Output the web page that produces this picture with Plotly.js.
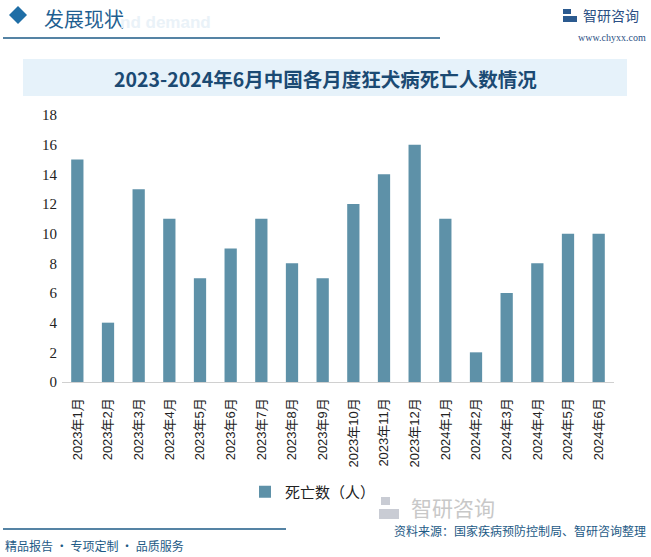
<!DOCTYPE html>
<html><head><meta charset="utf-8">
<script src="https://cdn.plot.ly/plotly-3.0.1.min.js"></script>
<style>body{margin:0;padding:0;background:#fff}#chart{width:651px;height:557px}</style>
</head><body><div id="chart"></div>
<script>
const categories = ["2023年1月","2023年2月","2023年3月","2023年4月","2023年5月","2023年6月","2023年7月","2023年8月","2023年9月","2023年10月","2023年11月","2023年12月","2024年1月","2024年2月","2024年3月","2024年4月","2024年5月","2024年6月"];
const deaths = [15,4,13,11,7,9,11,8,7,12,14,16,11,2,6,8,10,10];
const seriesName = "死亡数（人）";
const yTicks = [0,2,4,6,8,10,12,14,16,18];

const W = 651, H = 557;
const ml = 62, mr = 37, mt = 115, mb = 175;
const ph = H - mt - mb;
function py(pix){ return (H - mb - pix) / ph; }
function px(pix){ return (pix - ml) / (W - ml - mr); }

const data = [{
  type: 'bar', x: categories, y: deaths, name: seriesName,
  marker: {color: '#5e91a8'}, showlegend: true
}];

const layout = {
  width: W, height: H,
  margin: {l: ml, r: mr, t: mt, b: mb},
  paper_bgcolor: '#ffffff', plot_bgcolor: 'rgba(0,0,0,0)',
  bargap: 0.6,
  font: {family: 'Liberation Sans, Noto Sans CJK SC, sans-serif', color: '#222'},
  xaxis: {
    type: 'category', tickangle: -90, showgrid: false, zeroline: false,
    showline: true, linecolor: '#d0d0d0', linewidth: 1, ticks: '', ticklabelstandoff: 10,
    tickfont: {size: 13, family: 'Liberation Sans, Noto Sans CJK SC, sans-serif', color: '#222'}
  },
  yaxis: {
    range: [0, 18], tickvals: yTicks, ticktext: yTicks.map(String),
    showgrid: false, zeroline: false, showline: false, ticks: '', ticklabelstandoff: 4,
    tickfont: {size: 15, family: 'Liberation Serif, serif', color: '#222'}
  },
  showlegend: true,
  legend: {orientation: 'h', x: px(313), xanchor: 'center', y: py(492), yanchor: 'middle',
    font: {size: 15, family: 'Noto Sans CJK SC, sans-serif', color: '#222'}, itemwidth: 30},
  shapes: [
    {type: 'rect', xref: 'paper', yref: 'paper', x0: px(23), x1: px(627), y0: py(59), y1: py(96),
      fillcolor: '#e6f2fa', line: {width: 0}, layer: 'below'},
    {type: 'path', xref: 'paper', yref: 'paper',
      path: 'M ' + px(9) + ' ' + py(15) + ' L ' + px(18) + ' ' + py(6) + ' L ' + px(27) + ' ' + py(15) + ' L ' + px(18) + ' ' + py(24) + ' Z',
      fillcolor: '#1f6ea6', line: {width: 0}},
    {type: 'line', xref: 'paper', yref: 'paper', x0: px(3), x1: px(440), y0: py(38), y1: py(38),
      line: {color: '#1d5a86', width: 1.5}},
    {type: 'line', xref: 'paper', yref: 'paper', x0: px(3), x1: px(286), y0: py(529), y1: py(529),
      line: {color: '#1d5a86', width: 1.5}},
    {type: 'rect', xref: 'paper', yref: 'paper', x0: px(563), x1: px(571), y0: py(9), y1: py(14),
      fillcolor: '#2b5a8f', line: {width: 0}},
    {type: 'rect', xref: 'paper', yref: 'paper', x0: px(563), x1: px(577), y0: py(16), y1: py(22),
      fillcolor: '#2b5a8f', line: {width: 0}},
    {type: 'rect', xref: 'paper', yref: 'paper', x0: px(379), x1: px(390), y0: py(497), y1: py(505),
      fillcolor: '#c9ccd4', line: {width: 0}},
    {type: 'rect', xref: 'paper', yref: 'paper', x0: px(379), x1: px(399), y0: py(509), y1: py(519),
      fillcolor: '#c9ccd4', line: {width: 0}}
  ],
  annotations: [
    {xref: 'paper', yref: 'paper', x: px(42), y: py(18), xanchor: 'left', yanchor: 'middle', showarrow: false,
      text: '发展现状', font: {size: 20, family: 'Noto Sans CJK SC, sans-serif', color: '#1f5f91'}},
    {xref: 'paper', yref: 'paper', x: px(118), y: py(22), xanchor: 'left', yanchor: 'middle', showarrow: false,
      text: '<b>nd demand</b>', font: {size: 17, family: 'Liberation Sans, sans-serif', color: '#eaf2f8'}},
    {xref: 'paper', yref: 'paper', x: px(581), y: py(15), xanchor: 'left', yanchor: 'middle', showarrow: false,
      text: '智研咨询', font: {size: 14, family: 'Noto Sans CJK SC, sans-serif', color: '#2b4f84'}},
    {xref: 'paper', yref: 'paper', x: px(612), y: py(38), xanchor: 'center', yanchor: 'middle', showarrow: false,
      text: 'www.chyxx.com', font: {size: 10, family: 'Liberation Serif, serif', color: '#2b4f84'}},
    {xref: 'paper', yref: 'paper', x: px(325), y: py(78), xanchor: 'center', yanchor: 'middle', showarrow: false,
      text: '<b>2023-2024年6月中国各月度狂犬病死亡人数情况</b>', font: {size: 19.5, family: 'Noto Sans CJK SC, sans-serif', color: '#1b4a73'}},
    {xref: 'paper', yref: 'paper', x: px(453), y: py(507), xanchor: 'center', yanchor: 'middle', showarrow: false,
      text: '智研咨询', font: {size: 21, family: 'Noto Sans CJK SC, sans-serif', color: '#c8c8c8'}},
    {xref: 'paper', yref: 'paper', x: px(648), y: py(530), xanchor: 'right', yanchor: 'middle', showarrow: false,
      text: '资料来源：国家疾病预防控制局、智研咨询整理', font: {size: 12, family: 'Noto Sans CJK SC, sans-serif', color: '#1d5a86'}},
    {xref: 'paper', yref: 'paper', x: px(3), y: py(545), xanchor: 'left', yanchor: 'middle', showarrow: false,
      text: '精品报告 · 专项定制 · 品质服务', font: {size: 12, family: 'Noto Sans CJK SC, sans-serif', color: '#1d5a86'}}
  ]
};

Plotly.newPlot('chart', data, layout, {displayModeBar: false, staticPlot: true});
</script></body></html>
